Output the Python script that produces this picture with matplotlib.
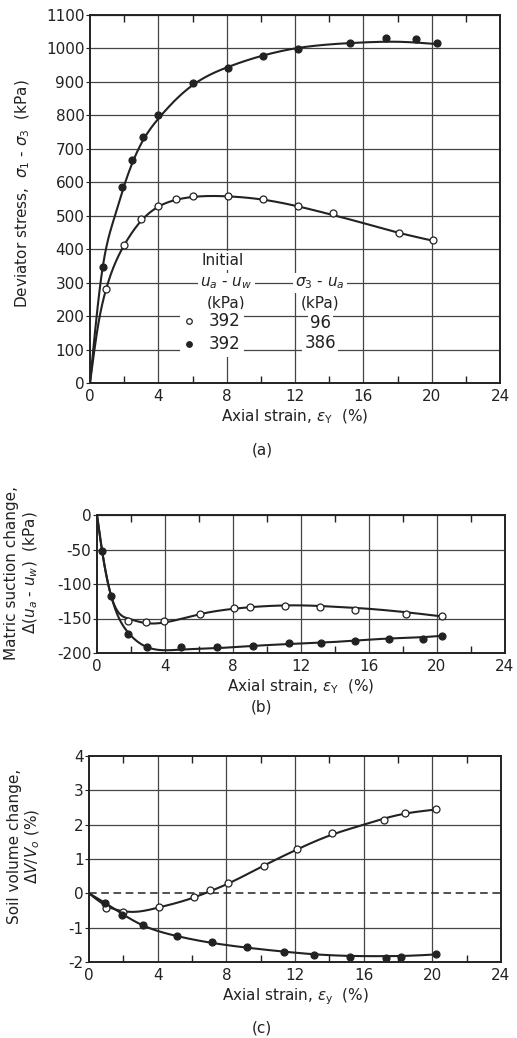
import numpy as np
import matplotlib
matplotlib.use("Agg")
import matplotlib.pyplot as plt
from matplotlib.ticker import MultipleLocator

plt.rcParams['font.family'] = ['DejaVu Sans']
plt.rcParams['mathtext.fontset'] = 'dejavusans'
plt.rcParams['axes.unicode_minus'] = False
INK = '#222222'

# ---------------- data: panel (a) deviator stress ----------------
a_open_x = [0.94, 1.99, 2.97, 4.0, 5.02, 6.05, 8.1, 10.1, 12.2, 14.2, 18.1, 20.1]
a_open_y = [280, 412, 489, 530, 549, 559, 560, 549, 530, 507, 447, 428]
a_fill_x = [0.74, 1.89, 2.44, 3.12, 4.0, 6.05, 8.1, 10.1, 12.16, 15.2, 17.3, 19.1, 20.3]
a_fill_y = [348, 587, 667, 736, 801, 896, 943, 977, 997, 1017, 1030, 1027, 1015]
# fitted curves
a_open_cx = [0, 0.5, 0.94, 2.0, 3.0, 4.0, 5.0, 6.0, 8.0, 10.0, 12.0, 14.0, 16.0, 18.0, 20.1]
a_open_cy = [0, 180, 280, 412, 485, 527, 547, 556, 558, 549, 530, 505, 478, 450, 425]
a_fill_cx = [0, 0.74, 1.4, 2.0, 3.1, 4.0, 6.0, 8.0, 10.0, 12.0, 14.0, 16.0, 18.0, 20.3]
a_fill_cy = [0, 345, 490, 590, 725, 790, 890, 943, 977, 1000, 1012, 1018, 1020, 1013]

# ---------------- data: panel (b) matric suction change ----------------
b_open_x = [1.82, 2.9, 3.92, 6.03, 8.03, 9.0, 11.03, 13.1, 15.2, 18.2, 20.3]
b_open_y = [-153, -155, -154, -143.5, -135, -134, -132, -133, -137, -143.5, -146]
b_fill_x = [0.29, 0.84, 1.82, 2.94, 4.95, 7.05, 9.15, 11.3, 13.2, 15.15, 17.2, 19.2, 20.3]
b_fill_y = [-52, -118, -172, -191, -191, -192, -190, -186, -185, -183, -179, -180, -175]
b_open_cx = [0, 0.3, 0.84, 1.82, 3.0, 3.9, 6.0, 8.0, 10.0, 12.0, 14.0, 16.0, 18.2, 20.3]
b_open_cy = [0, -52, -118, -150, -157, -156, -144, -136, -132, -131, -133, -136, -141, -147]
b_fill_cx = [0, 0.3, 0.84, 1.82, 3.0, 4.0, 5.0, 7.0, 9.0, 11.3, 13.2, 15.2, 17.2, 19.2, 20.3]
b_fill_cy = [0, -52, -118, -170, -192, -196, -195, -193, -190, -187, -185, -182, -179, -177, -175]

# ---------------- data: panel (c) soil volume change ----------------
c_open_x = [0.97, 2.0, 4.05, 6.09, 7.07, 8.1, 10.18, 12.09, 14.17, 17.2, 18.4, 20.2]
c_open_y = [-0.44, -0.54, -0.39, -0.12, 0.10, 0.29, 0.80, 1.29, 1.75, 2.14, 2.33, 2.45]
c_fill_x = [0.92, 1.95, 3.12, 5.14, 7.19, 9.2, 11.34, 13.1, 15.2, 17.3, 18.2, 20.2]
c_fill_y = [-0.27, -0.64, -0.93, -1.25, -1.42, -1.57, -1.70, -1.79, -1.85, -1.89, -1.86, -1.76]
c_open_cx = [0, 1.0, 2.0, 2.6, 4.0, 6.0, 7.0, 8.0, 10.0, 12.0, 14.0, 16.0, 18.0, 20.2]
c_open_cy = [0, -0.36, -0.52, -0.54, -0.42, -0.14, 0.05, 0.26, 0.76, 1.25, 1.68, 2.0, 2.28, 2.44]
c_fill_cx = [0, 1.0, 2.0, 3.0, 5.0, 7.0, 9.0, 11.0, 13.0, 15.0, 17.0, 18.5, 20.2]
c_fill_cy = [0, -0.30, -0.62, -0.90, -1.23, -1.43, -1.57, -1.68, -1.77, -1.82, -1.83, -1.82, -1.78]

legend_suction = ['392', '392']
legend_confining = ['96', '386']


def spline(xk, yk, n=400):
    xk = np.asarray(xk, float); yk = np.asarray(yk, float)
    m = len(xk); h = np.diff(xk)
    A = np.zeros((m, m)); r = np.zeros(m)
    A[0, 0] = A[-1, -1] = 1
    for i in range(1, m - 1):
        A[i, i - 1] = h[i - 1]; A[i, i] = 2 * (h[i - 1] + h[i]); A[i, i + 1] = h[i]
        r[i] = 6 * ((yk[i + 1] - yk[i]) / h[i] - (yk[i] - yk[i - 1]) / h[i - 1])
    M = np.linalg.solve(A, r)
    xs = np.linspace(xk[0], xk[-1], n)
    idx = np.clip(np.searchsorted(xk, xs) - 1, 0, m - 2)
    x0 = xk[idx]; x1 = xk[idx + 1]; hh = x1 - x0
    ys = (M[idx] * (x1 - xs) ** 3 + M[idx + 1] * (xs - x0) ** 3) / (6 * hh) \
        + (yk[idx] / hh - M[idx] * hh / 6) * (x1 - xs) \
        + (yk[idx + 1] / hh - M[idx + 1] * hh / 6) * (xs - x0)
    return xs, ys


W, H = 517, 1038
fig = plt.figure(figsize=(W / 100, H / 100), dpi=100)

def box(l, t, r, b):
    return [l / W, 1 - b / H, (r - l) / W, (b - t) / H]

axa = fig.add_axes(box(90, 15, 500, 383))
axb = fig.add_axes(box(97, 515, 505, 653))
axc = fig.add_axes(box(89, 756, 501, 962))

FS = 11

def style(ax, ymin, ymax, ystep, xlabel, hgrid=True):
    ax.set_xlim(0, 24)
    ax.set_ylim(ymin, ymax)
    ax.xaxis.set_major_locator(MultipleLocator(4))
    ax.xaxis.set_minor_locator(MultipleLocator(2))
    ax.yaxis.set_major_locator(MultipleLocator(ystep))
    ax.tick_params(axis='x', which='both', direction='in', top=True, colors=INK,
                   labelsize=FS, pad=4)
    ax.tick_params(axis='x', which='major', length=0)
    ax.tick_params(axis='x', which='minor', length=5, width=1)
    ax.tick_params(axis='y', which='major', direction='out', length=3, colors=INK,
                   labelsize=FS, pad=1)
    for s in ax.spines.values():
        s.set_linewidth(1.4); s.set_color(INK)
    for xv in ax.get_xticks():
        if 0 < xv < 24:
            ax.axvline(xv, color='#444444', lw=0.9, zorder=0)
    if hgrid:
        ax.grid(axis='y', color='#444444', lw=0.9, zorder=0)
    ax.set_xlabel(xlabel, fontsize=FS, color=INK, labelpad=3)

mk = dict(ms=5, mew=0.9, ls='none', zorder=4)

# ---- (a)
style(axa, 0, 1100, 100, r'Axial strain, $\epsilon_{\rm Y}$  (%)')
for cx, cy in [(a_open_cx, a_open_cy), (a_fill_cx, a_fill_cy)]:
    xs, ys = spline(cx, cy)
    axa.plot(xs, ys, color=INK, lw=1.5, zorder=3)
h_open, = axa.plot(a_open_x, a_open_y, marker='o', mfc='white', mec=INK, **mk)
h_fill, = axa.plot(a_fill_x, a_fill_y, marker='o', mfc=INK, mec=INK, **mk)
axa.set_ylabel(r'Deviator stress,  $\sigma_1$ - $\sigma_3$  (kPa)', fontsize=FS, color=INK)
axa.yaxis.set_label_coords(-0.141, 0.515)
tb = dict(fc='white', ec='none', pad=1.5)
tt = dict(transform=axa.transAxes, ha='center', va='center', color=INK, bbox=tb)
axa.text(0.324, 0.332, 'Initial', fontsize=FS, **tt)
axa.text(0.333, 0.2726, r'$u_a$ - $u_w$', fontsize=FS, **tt)
axa.text(0.333, 0.218, '(kPa)', fontsize=FS, **tt)
axa.text(0.561, 0.2726, r'$\sigma_3$ - $u_a$', fontsize=FS, **tt)
axa.text(0.561, 0.218, '(kPa)', fontsize=FS, **tt)
for i, v in enumerate(legend_confining):
    axa.text(0.561, 0.164 - i * 0.056, v, fontsize=FS + 1, **tt)
leg = axa.legend([h_open, h_fill], legend_suction, loc='center left',
                 bbox_to_anchor=(0.2, 0.136), frameon=True, fontsize=FS + 1,
                 handlelength=0.6, handletextpad=0.9, labelspacing=0.3,
                 borderpad=0.2, markerscale=0.8, labelcolor=INK)
leg.get_frame().set_facecolor('white'); leg.get_frame().set_edgecolor('none')
leg.get_frame().set_alpha(1)
fig.text(262 / W, 1 - 450 / H, '(a)', ha='center', va='center', fontsize=FS, color=INK)

# ---- (b)
style(axb, -200, 0, 50, r'Axial strain, $\epsilon_{\rm Y}$  (%)')
for cx, cy in [(b_open_cx, b_open_cy), (b_fill_cx, b_fill_cy)]:
    xs, ys = spline(cx, cy)
    axb.plot(xs, ys, color=INK, lw=1.5, zorder=3)
axb.plot(b_open_x, b_open_y, marker='o', mfc='white', mec=INK, **mk)
axb.plot(b_fill_x, b_fill_y, marker='o', mfc=INK, mec=INK, **mk)
axb.set_ylabel('Matric suction change,\n' + r'$\Delta$($u_a$ - $u_w$)  (kPa)',
               fontsize=FS, color=INK, linespacing=1.15)
axb.yaxis.set_label_coords(-0.14, 0.58)
fig.text(262 / W, 1 - 707 / H, '(b)', ha='center', va='center', fontsize=FS, color=INK)

# ---- (c)
style(axc, -2, 4, 1, r'Axial strain, $\epsilon_{\rm y}$  (%)', hgrid=False)
for yv in axc.get_yticks():
    if -2 < yv < 4 and yv != 0:
        axc.axhline(yv, color='#444444', lw=0.9, zorder=0)
axc.axhline(0, color=INK, lw=1.1, ls=(0, (5, 3)), zorder=1)
for cx, cy in [(c_open_cx, c_open_cy), (c_fill_cx, c_fill_cy)]:
    xs, ys = spline(cx, cy)
    axc.plot(xs, ys, color=INK, lw=1.5, zorder=3)
axc.plot(c_open_x, c_open_y, marker='o', mfc='white', mec=INK, **mk)
axc.plot(c_fill_x, c_fill_y, marker='o', mfc=INK, mec=INK, **mk)
axc.set_ylabel('Soil volume change,\n' + r'$\Delta V/V_o$ (%)',
               fontsize=FS, color=INK, linespacing=1.15)
axc.yaxis.set_label_coords(-0.114, 0.56)
fig.text(262 / W, 1 - 1028 / H, '(c)', ha='center', va='center', fontsize=FS, color=INK)

fig.savefig('out.png', dpi=100, facecolor='white')
